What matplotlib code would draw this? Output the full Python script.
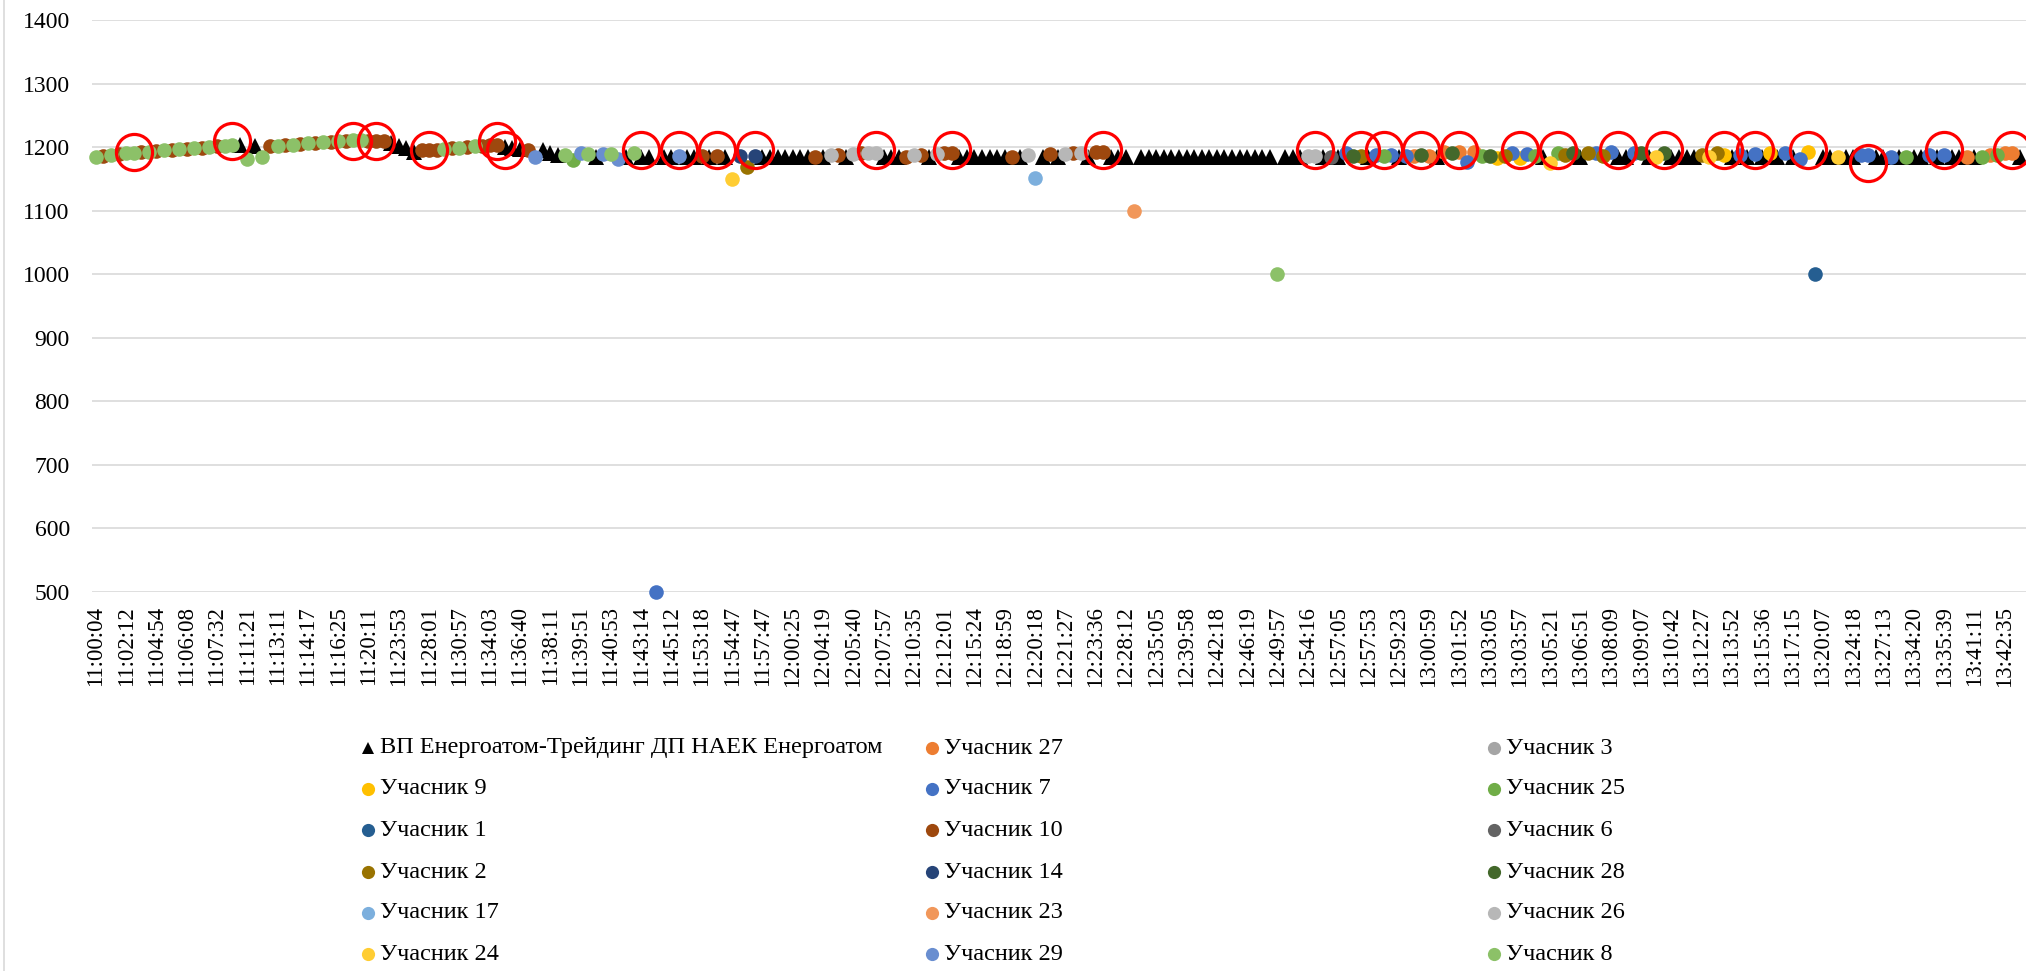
import numpy as np
import matplotlib
matplotlib.use("Agg")
import matplotlib.pyplot as plt
from matplotlib.lines import Line2D

plt.rcParams['font.family'] = ['Liberation Serif', 'DejaVu Serif']

nan = float('nan')

# ---------------- data ----------------
N_CAT = 255
tick_labels = [
    "11:00:04", "11:02:12", "11:04:54", "11:06:08", "11:07:32", "11:11:21", "11:13:11", "11:14:17",
    "11:16:25", "11:20:11", "11:23:53", "11:28:01", "11:30:57", "11:34:03", "11:36:40", "11:38:11",
    "11:39:51", "11:40:53", "11:43:14", "11:45:12", "11:53:18", "11:54:47", "11:57:47", "12:00:25",
    "12:04:19", "12:05:40", "12:07:57", "12:10:35", "12:12:01", "12:15:24", "12:18:59", "12:20:18",
    "12:21:27", "12:23:36", "12:28:12", "12:35:05", "12:39:58", "12:42:18", "12:46:19", "12:49:57",
    "12:54:16", "12:57:05", "12:57:53", "12:59:23", "13:00:59", "13:01:52", "13:03:05", "13:03:57",
    "13:05:21", "13:06:51", "13:08:09", "13:09:07", "13:10:42", "13:12:27", "13:13:52", "13:15:36",
    "13:17:15", "13:20:07", "13:24:18", "13:27:13", "13:34:20", "13:35:39", "13:41:11", "13:42:35",
]
tick_step = 4

# ВП Енергоатом-Трейдинг: one price per bid (nan where another participant bid)
vp_prices = [
    nan, nan, nan, nan, nan, nan, nan, nan, nan, nan,
    nan, nan, nan, nan, nan, nan, nan, nan, nan, 1204,
    nan, 1202, nan, nan, nan, nan, nan, nan, nan, nan,
    nan, nan, nan, nan, nan, nan, nan, nan, nan, 1206,
    1202, 1198, 1193, nan, nan, nan, nan, nan, nan, nan,
    nan, nan, nan, nan, 1200, 1199, 1197, nan, nan, 1195,
    1191, 1187, nan, nan, nan, nan, 1185, nan, nan, nan,
    1185, nan, 1185, 1185, nan, 1185, 1185, nan, 1185, 1185,
    nan, 1185, nan, 1185, nan, nan, nan, nan, 1185, 1185,
    1185, 1185, 1185, 1185, 1185, nan, 1185, nan, nan, 1185,
    nan, nan, nan, nan, 1185, 1185, 1185, nan, nan, nan,
    1185, nan, nan, nan, 1185, 1185, 1185, 1185, 1185, 1185,
    1185, nan, 1185, nan, nan, 1185, nan, 1185, nan, nan,
    nan, 1185, nan, nan, 1185, 1185, 1185, nan, 1185, 1185,
    1185, 1185, 1185, 1185, 1185, 1185, 1185, 1185, 1185, 1185,
    1185, 1185, 1185, 1185, 1185, 1185, nan, 1185, 1185, 1185,
    nan, nan, 1185, nan, 1185, nan, nan, nan, 1185, nan,
    nan, nan, 1185, nan, nan, nan, nan, 1185, nan, nan,
    nan, nan, nan, nan, nan, nan, nan, nan, nan, nan,
    nan, 1185, nan, nan, nan, nan, 1185, nan, nan, nan,
    nan, 1185, 1185, nan, nan, 1185, nan, nan, 1185, 1185,
    1185, 1185, nan, nan, nan, nan, 1185, nan, 1185, nan,
    1185, nan, 1185, nan, 1185, nan, nan, nan, 1185, 1185,
    nan, 1185, 1185, nan, nan, 1185, 1185, nan, 1185, nan,
    1185, 1185, nan, 1185, nan, 1185, 1185, nan, 1185, nan,
    nan, nan, nan, nan, 1185,
]

p27_cat = [174, 176, 178, 180, 182, 247, 250, 252, 253]
p27_val = [1186, 1186, 1193, 1193, 1193, 1185, 1188, 1190, 1190]
p3_cat = []
p3_val = []
p9_cat = [185, 188, 215, 221, 226]
p9_val = [1183, 1183, 1188, 1190, 1193]
p7_cat = [74, 165, 169, 171, 173, 181, 187, 189, 198, 200, 203, 217, 219, 223, 225, 233, 234, 237, 242, 244]
p7_val = [500, 1190, 1188, 1188, 1186, 1177, 1190, 1189, 1190, 1193, 1190, 1188, 1189, 1190, 1181, 1188, 1188, 1185, 1188, 1188]
p25_cat = [63, 170, 183, 190, 193, 239, 249, 251]
p25_val = [1179, 1186, 1186, 1186, 1190, 1185, 1185, 1188]
p1_cat = [227]
p1_val = [1000]
p10_cat = [1, 3, 6, 8, 10, 12, 14, 16,
           23, 25, 27, 29, 31, 33, 36, 37, 38,
           43, 44, 45, 47, 49, 51, 52, 53, 57,
           80, 82, 95, 98, 101, 107, 109, 112, 113, 121, 126, 129, 132, 133]
p10_val = [1186, 1189, 1192, 1194, 1196, 1197, 1199, 1201,
           1201, 1203, 1205, 1207, 1208, 1210, 1210, 1210, 1209,
           1195, 1195, 1195, 1198, 1200, 1202, 1203, 1203, 1196,
           1186, 1186, 1185, 1188, 1190, 1185, 1188, 1190, 1190, 1185, 1189, 1190, 1192, 1192]
p6_cat = [163]
p6_val = [1185]
p2_cat = [86, 167, 186, 194, 197, 199, 212, 214]
p2_val = [1169, 1186, 1186, 1188, 1190, 1186, 1188, 1190]
p14_cat = [85, 87]
p14_val = [1186, 1186]
p28_cat = [166, 175, 179, 184, 195, 204, 207]
p28_val = [1186, 1188, 1190, 1186, 1191, 1191, 1190]
p17_cat = [124]
p17_val = [1151]
p23_cat = [137]
p23_val = [1100]
p26_cat = [97, 100, 102, 103, 108, 111, 123, 128, 130, 160, 161]
p26_val = [1188, 1189, 1190, 1190, 1188, 1189, 1188, 1189, 1190, 1186, 1186]
p24_cat = [84, 192, 206, 213, 230]
p24_val = [1150, 1175, 1185, 1185, 1185]
p29_cat = [58, 64, 67, 69, 77]
p29_val = [1185, 1190, 1189, 1181, 1186]
p8_cat = [0, 2, 4, 5, 7, 9, 11, 13, 15, 17, 18, 20, 22,
          24, 26, 28, 30, 32, 34, 35, 46, 48, 50, 62, 65, 68, 71, 156]
p8_val = [1185, 1188, 1190, 1191, 1193, 1195, 1197, 1198, 1200, 1202, 1204, 1181, 1185,
          1202, 1204, 1206, 1208, 1209, 1211, 1211, 1197, 1199, 1201, 1187, 1189, 1189, 1191, 1000]

# highlighted (red circle) bids
hl_cat = [5, 18, 34, 37, 44, 53, 54, 72, 77, 82, 87, 103, 113, 133, 161, 167, 170, 175,
          180, 188, 193, 201, 207, 215, 219, 226, 234, 244, 253]
hl_val = [1193, 1210, 1210, 1210, 1195, 1210, 1195, 1195, 1195, 1195, 1195, 1195, 1195, 1195,
          1195, 1195, 1195, 1195, 1195, 1195, 1195, 1195, 1195, 1195, 1195, 1195, 1175, 1195, 1195]

# ---------------- series styling (draw order = Excel series order) ----------------
series = [
    ("Учасник 27", p27_cat, p27_val, "#ED7D31"),
    ("Учасник 3", p3_cat, p3_val, "#A5A5A5"),
    ("Учасник 9", p9_cat, p9_val, "#FFC000"),
    ("Учасник 7", p7_cat, p7_val, "#4472C4"),
    ("Учасник 25", p25_cat, p25_val, "#70AD47"),
    ("Учасник 1", p1_cat, p1_val, "#255E91"),
    ("Учасник 10", p10_cat, p10_val, "#9E480E"),
    ("Учасник 6", p6_cat, p6_val, "#636363"),
    ("Учасник 2", p2_cat, p2_val, "#997300"),
    ("Учасник 14", p14_cat, p14_val, "#264478"),
    ("Учасник 28", p28_cat, p28_val, "#43682B"),
    ("Учасник 17", p17_cat, p17_val, "#7CAFDD"),
    ("Учасник 23", p23_cat, p23_val, "#F1975A"),
    ("Учасник 26", p26_cat, p26_val, "#B7B7B7"),
    ("Учасник 24", p24_cat, p24_val, "#FFCD33"),
    ("Учасник 29", p29_cat, p29_val, "#698ED0"),
    ("Учасник 8", p8_cat, p8_val, "#8CC168"),
]
vp_label = "ВП Енергоатом-Трейдинг ДП НАЕК Енергоатом"

W, H = 2026, 971
fig = plt.figure(figsize=(W / 100, H / 100), dpi=100)
ax_l, ax_r, ax_t, ax_b = 92, 2026, 20, 592
ax = fig.add_axes([ax_l / W, 1 - ax_b / H, (ax_r - ax_l) / W, (ax_b - ax_t) / H])

z = 3
ax.plot(np.arange(N_CAT), vp_prices, linestyle='none', marker='^', ms=11,
        color='black', mew=0, zorder=z, clip_on=False)
for name, cats, vals, col in series:
    z += 1
    ax.plot(cats, vals, linestyle='none', marker='o', ms=10.5, color=col, mew=0,
            zorder=z, clip_on=False)
ax.plot(hl_cat, hl_val, linestyle='none', marker='o', ms=26, mfc='none',
        mec='#FF0000', mew=2.3, zorder=z + 1, clip_on=False)

ax.set_xlim(-0.5, -0.5 + (ax_r - ax_l) / 7.575)
ax.set_ylim(500, 1400)
ax.set_yticks(np.arange(500, 1401, 100))
ax.set_xticks(np.arange(len(tick_labels)) * tick_step)
ax.set_xticklabels(tick_labels, rotation=90, fontsize=16.5)
ax.tick_params(axis='x', length=0, pad=10)
ax.tick_params(axis='y', length=0, pad=16, labelsize=17)
ax.grid(axis='y', color='#D9D9D9', lw=1.2, zorder=0)
ax.set_axisbelow(True)
for s in ax.spines.values():
    s.set_visible(False)

# chart-area left border
fig.add_artist(Line2D([4 / W, 4 / W], [0, 1], transform=fig.transFigure,
                      color='#D9D9D9', lw=1.2))

# ---------------- legend (Excel style, 3 columns, row-major) ----------------
lg = fig.add_axes([0, 0, 1, 1])
lg.set_xlim(0, W)
lg.set_ylim(H, 0)
lg.axis('off')
entries = [(vp_label, 'black', '^')] + [(n, c, 'o') for n, _, _, c in series]
col_x = [368, 932, 1494]
row_y = [748, 789, 830, 872, 913, 954]
for i, (name, col, mk) in enumerate(entries):
    r, cix = divmod(i, 3)
    x, y = col_x[cix], row_y[r]
    lg.plot([x], [y], linestyle='none', marker=mk, ms=8.5 if mk == '^' else 9.5, color=col, mew=0)
    lg.text(x + 12, y, name, fontsize=17.5, ha='left', va='center')

fig.savefig("out.png", dpi=100)
